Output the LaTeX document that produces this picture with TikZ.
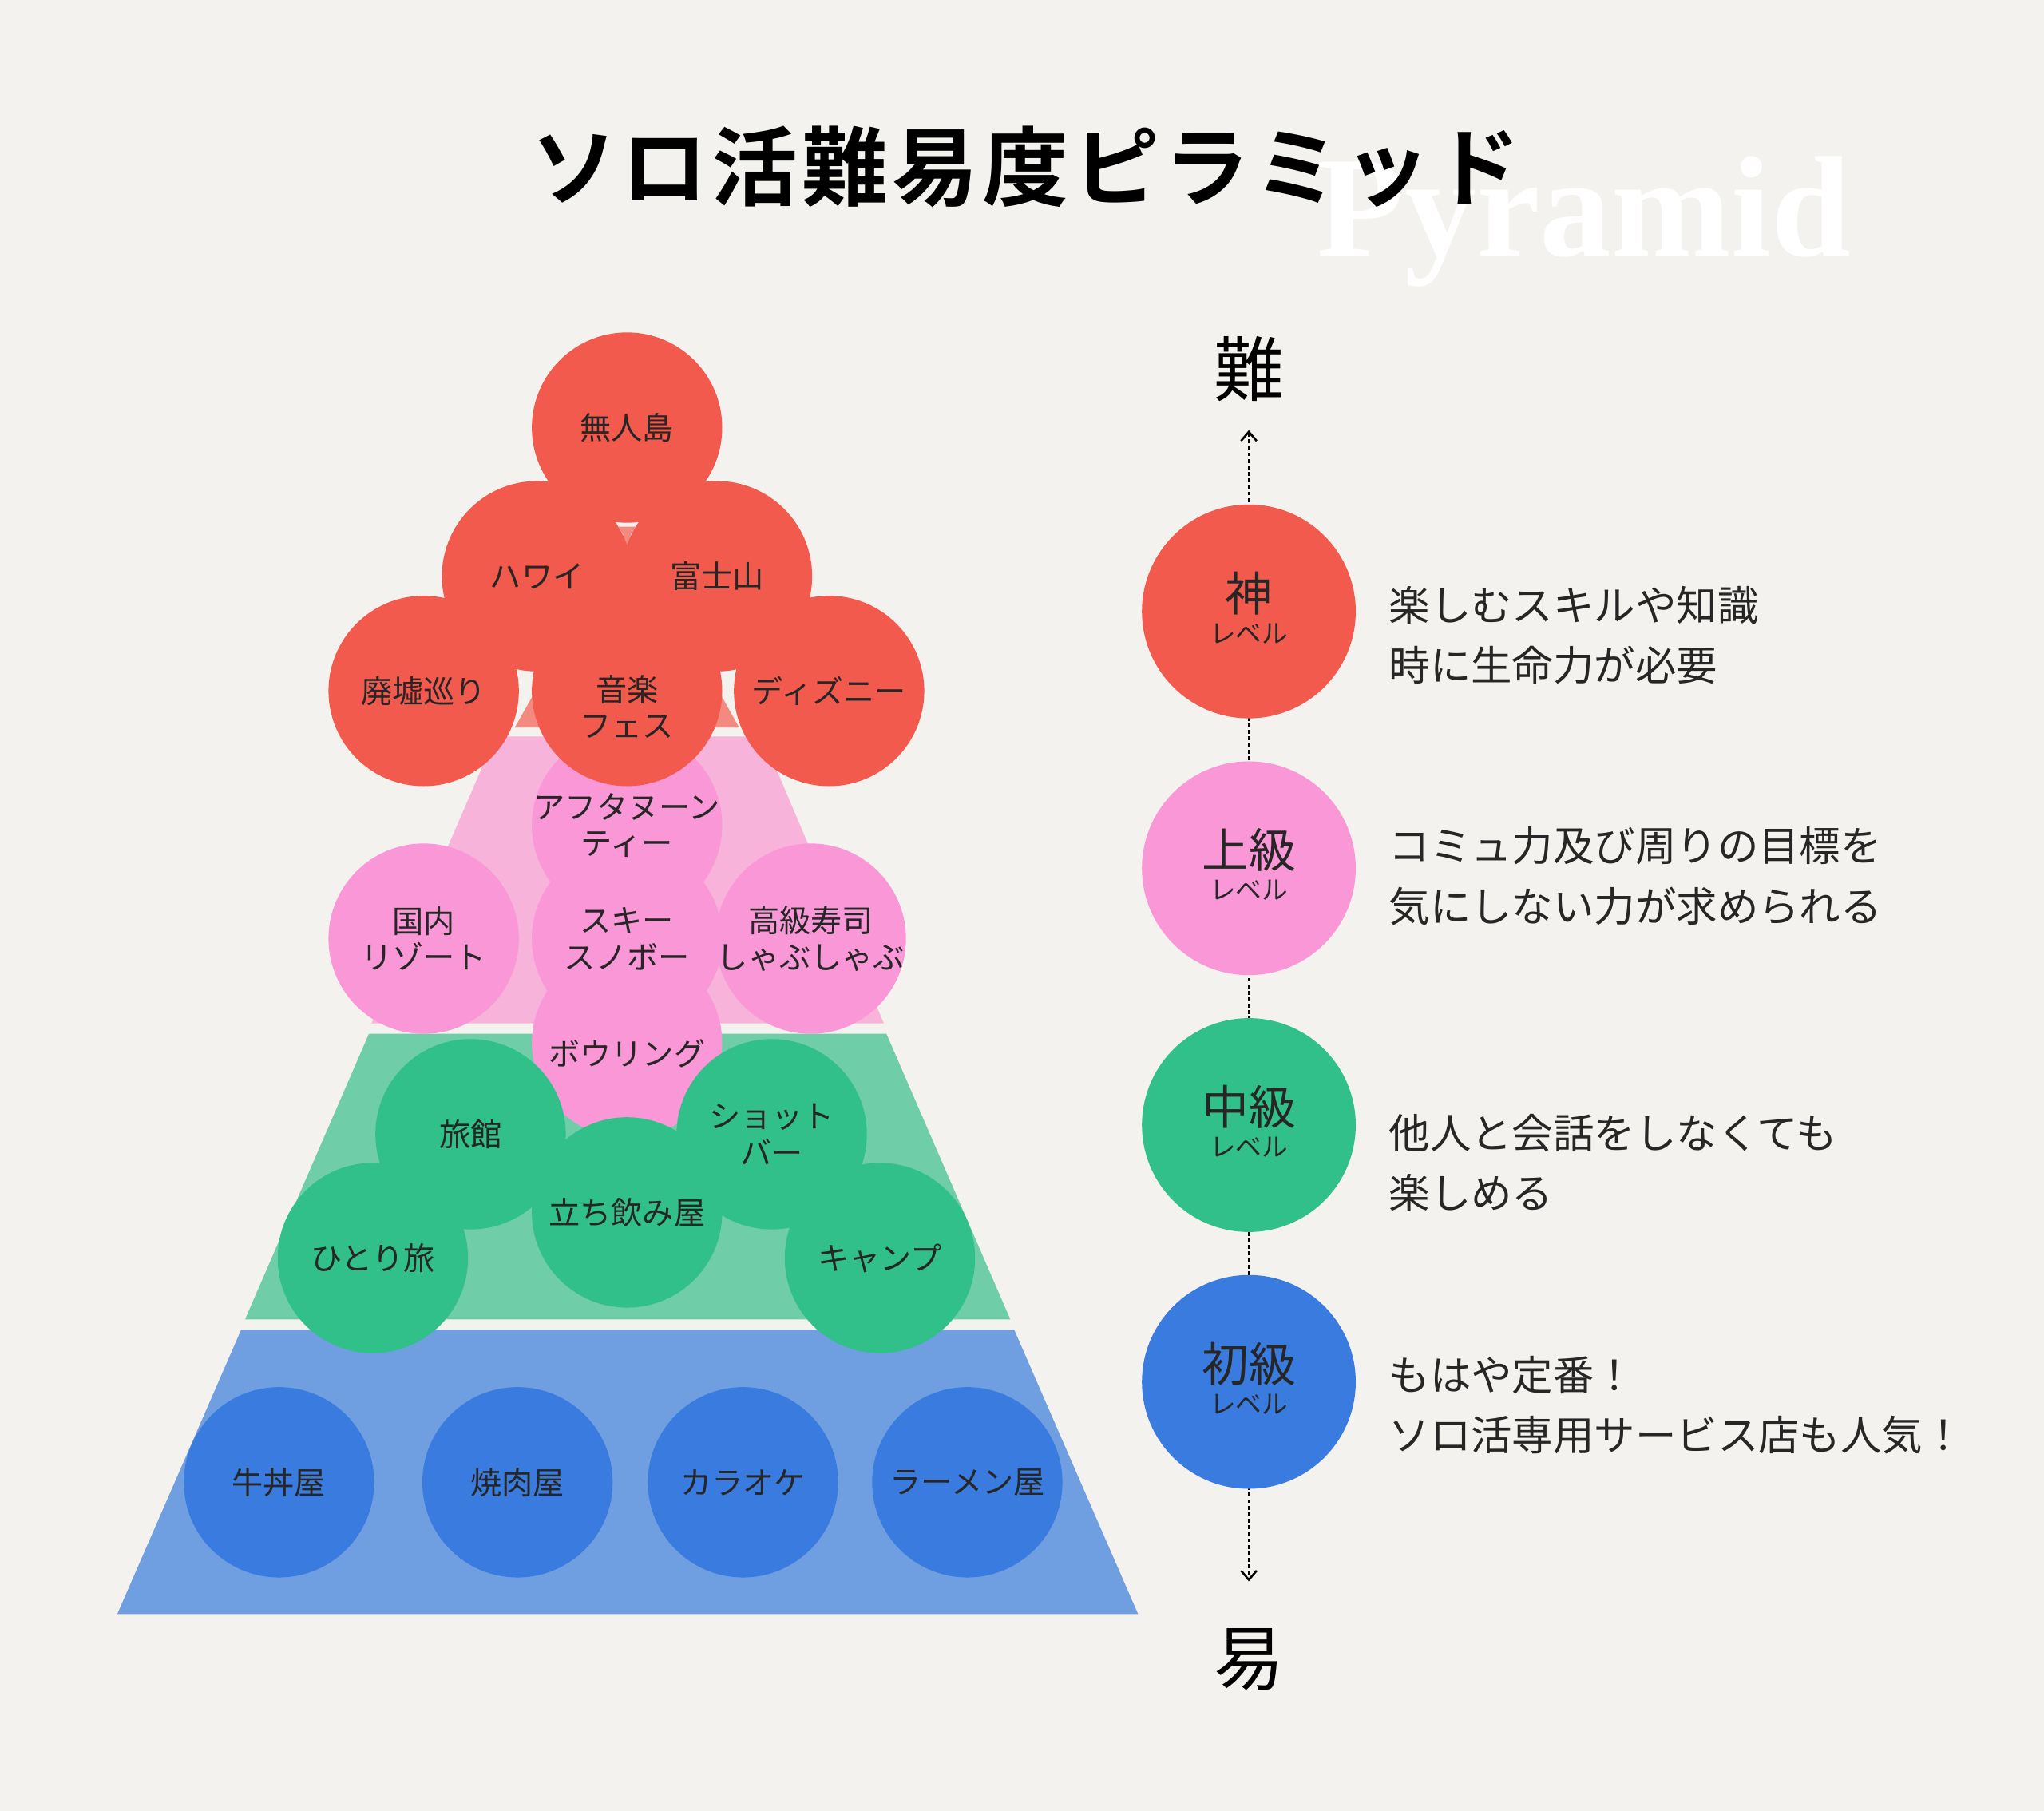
\documentclass[tikz,border=0pt]{standalone}
\usepackage{fontspec}
\setmainfont{Noto Sans CJK JP}
\newfontfamily\jpb[LetterSpace=5]{Noto Sans CJK JP Bold}
\newfontfamily\serifb{Liberation Serif}
\usetikzlibrary{arrows.meta}
\definecolor{bg}{HTML}{F4F2EE}
\definecolor{cr}{HTML}{F25A4E}
\definecolor{cp}{HTML}{F997D7}
\definecolor{cg}{HTML}{32C08A}
\definecolor{cb}{HTML}{3A7BDF}
\definecolor{tr}{HTML}{F38A80}
\definecolor{tp}{HTML}{F8B3DB}
\definecolor{tg}{HTML}{6FCDA7}
\definecolor{tb}{HTML}{6F9FE0}
\tikzset{
  bub/.style={circle,minimum size=146pt,inner sep=0pt,fill=#1},
  lbl/.style={font=\fontsize{24}{28}\selectfont,align=center,text=black!85},
  lvl/.style={circle,minimum size=164pt,inner sep=0pt,fill=#1},
  lvbig/.style={font=\fontsize{36}{38}\selectfont,text=black!85,inner sep=0pt},
  lvsmall/.style={font=\fontsize{20}{22}\selectfont,text=black!85,inner sep=0pt},
  desc/.style={anchor=west,font=\fontsize{31.5}{46}\selectfont,align=left,text=black!85}
}
\begin{document}
\begin{tikzpicture}[x=1pt,y=-1pt]
\fill[bg] (0,0) rectangle (1568,1389);
\useasboundingbox (0,0) rectangle (1568,1389);
\node[font=\serifb\bfseries\fontsize{110}{110}\selectfont,text=white] (pyr) at (1215,170) {Pyramid};
\node[font=\jpb\fontsize{66}{70}\selectfont] (title) at (787,128) {ソロ活難易度ピラミッド};
% tiers
\fill[tb] (90,1238) -- (873,1238) -- (778,1020) -- (185,1020) -- cycle;
\fill[tg] (188,1012) -- (775,1012) -- (680,793) -- (283,793) -- cycle;
\fill[tp] (285,785) -- (678,785) -- (585,565) -- (380,565) -- cycle;
\fill[tr] (395,558) -- (567,558) -- (481,405) -- cycle;
% blue
\foreach \n/\x/\t in {b1/214/牛丼屋,b2/397/焼肉屋,b3/570/カラオケ,b4/742/ラーメン屋}
  \node[bub=cb,lbl] (\n) at (\x,1137) {\t};
% pink
\node[bub=cp] (p1) at (481,633) {};
\node[bub=cp] (p2) at (325,720) {};
\node[bub=cp] (p3) at (481,720) {};
\node[bub=cp] (p4) at (622,720) {};
\node[bub=cp] (p5) at (481,800) {};
% green
\node[bub=cg] (g1) at (361,870) {};
\node[bub=cg] (g2) at (592,870) {};
\node[bub=cg] (g3) at (481,930) {};
\node[bub=cg] (g4) at (286,965) {};
\node[bub=cg] (g5) at (675,965) {};
% red
\node[bub=cr] (r1) at (481,328) {};
\node[bub=cr] (r2) at (412,442) {};
\node[bub=cr] (r3) at (550,442) {};
\node[bub=cr] (r4) at (325,530) {};
\node[bub=cr] (r5) at (481,530) {};
\node[bub=cr] (r6) at (636,530) {};
\fill[tr] (474,404) -- (488,404) -- (481,414) -- cycle;
% texts
\node[lbl] at (r1) {無人島};
\node[lbl] at (r2) {ハワイ};
\node[lbl] at (r3) {富士山};
\node[lbl] at (r4) {廃墟巡り};
\node[lbl] at ([yshift=-12]r5) {音楽\\フェス};
\node[lbl] at (r6) {ディズニー};
\node[lbl] at (p1) {アフタヌーン\\ティー};
\node[lbl] at (p2) {国内\\リゾート};
\node[lbl] at (p3) {スキー\\スノボー};
\node[lbl] at (p4) {高級寿司\\しゃぶしゃぶ};
\node[lbl] at ([yshift=-8]p5) {ボウリング};
\node[lbl] at (g1) {旅館};
\node[lbl] at (g2) {ショット\\バー};
\node[lbl] at (g3) {立ち飲み屋};
\node[lbl] at (g4) {ひとり旅};
\node[lbl] at (g5) {キャンプ};
% scale
\node[font=\fontsize{54}{58}\selectfont] (hard) at (958,283) {難};
\node[font=\fontsize{54}{58}\selectfont] (easy) at (958,1273) {易};
\coordinate (top) at (958,330);
\coordinate (bot) at (958,1213);
\draw[densely dashed,line width=1.6pt,-{Straight Barb[length=7pt,width=12pt]}] (958,385) -- (top);
\draw[densely dashed,line width=1.6pt,-{Straight Barb[length=7pt,width=12pt]}] (958,1140) -- (bot);
\draw[densely dashed,line width=1.6pt] (958,550) -- (958,980);
\foreach \n/\y/\c/\t in {l1/469/cr/神,l2/666/cp/上級,l3/863/cg/中級,l4/1060/cb/初級}{
  \node[lvl=\c] (\n) at (958,\y) {};
  \node[lvbig] at (958,\y-14) {\t};
  \node[lvsmall] at (958,\y+17) {レベル};
}
\node[desc] (d1) at (1062,487) {楽しむスキルや知識\\時に生命力が必要};
\node[desc] (d2) at (1062,672) {コミュ力及び周りの目標を\\気にしない力が求められる};
\node[desc] (d3) at (1062,892) {他人と会話をしなくても\\楽しめる};
\node[desc] (d4) at (1062,1078) {もはや定番！\\ソロ活専用サービス店も人気！};
\end{tikzpicture}
\end{document}
